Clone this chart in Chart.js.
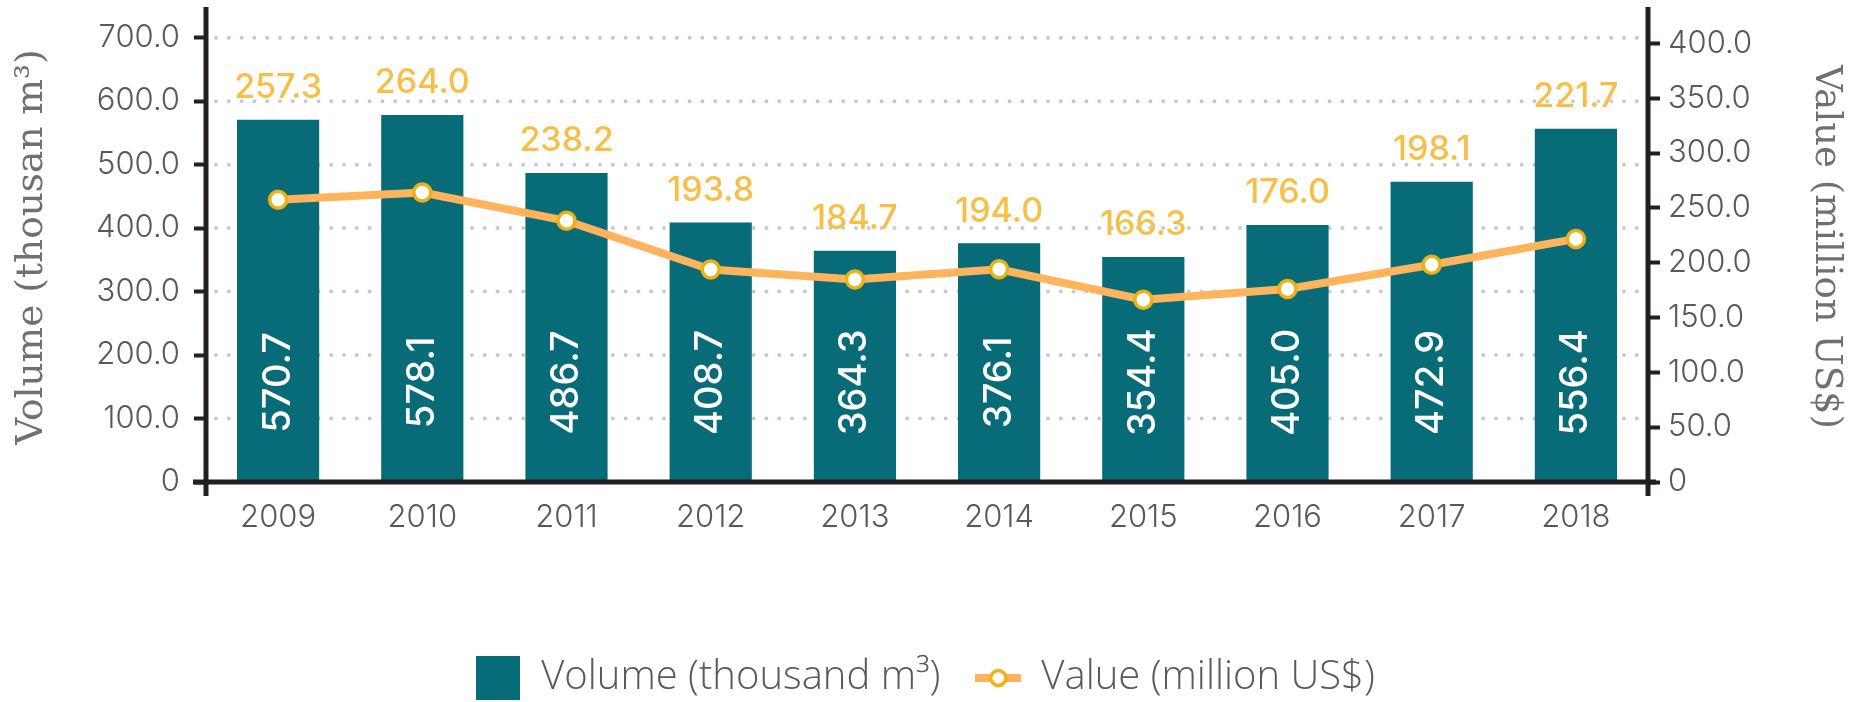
<!DOCTYPE html>
<html>
<head>
<meta charset="utf-8">
<script src="https://cdn.jsdelivr.net/npm/chart.js@4.4.1/dist/chart.umd.min.js"></script>
<style>
  html, body { margin: 0; padding: 0; background: #ffffff; }
  #wrap { width: 1850px; height: 702px; }
</style>
</head>
<body>
<div id="wrap"><canvas id="chart" width="1850" height="702"></canvas></div>
<script>
// ---- data ----
const years = ['2009', '2010', '2011', '2012', '2013', '2014', '2015', '2016', '2017', '2018'];
const volumeValues = [570.7, 578.1, 486.7, 408.7, 364.3, 376.1, 354.4, 405.0, 472.9, 556.4];
const valueValues = [257.3, 264.0, 238.2, 193.8, 184.7, 194.0, 166.3, 176.0, 198.1, 221.7];
const volumeTicks = [0, 100, 200, 300, 400, 500, 600, 700];
const valueTicks = [0, 50, 100, 150, 200, 250, 300, 350, 400];
const seriesNames = ['Volume (thousand m³)', 'Value (million US$)'];
const axisTitles = ['Volume (thousan m³)', 'Value (million US$)'];

// ---- styles ----
const TEAL = '#076b78';
const LINE = '#fdb45d';
const RING = '#efb015';
const LABEL = '#f7bf48';
const AXIS = '#231f20';
const GRID = '#cacaca';
const TEXT = '#595959';

function legendIcons() {
  const sq = document.createElement('canvas');
  sq.width = 44; sq.height = 44;
  let c = sq.getContext('2d');
  c.fillStyle = TEAL; c.fillRect(0, 0, 44, 44);
  const ln = document.createElement('canvas');
  ln.width = 46; ln.height = 22;
  c = ln.getContext('2d');
  c.strokeStyle = LINE; c.lineWidth = 8;
  c.beginPath(); c.moveTo(0, 11); c.lineTo(46, 11); c.stroke();
  c.beginPath(); c.arc(23, 11, 7.5, 0, Math.PI * 2);
  c.fillStyle = '#fff'; c.fill();
  c.lineWidth = 3.5; c.strokeStyle = RING; c.stroke();
  return [sq, ln];
}
const icons = legendIcons();

const dottedGrid = {
  id: 'dottedGrid',
  beforeDatasetsDraw(chart) {
    const { ctx, chartArea } = chart;
    const y = chart.scales.y;
    ctx.save();
    ctx.strokeStyle = GRID;
    ctx.lineWidth = 4;
    ctx.lineCap = 'round';
    ctx.setLineDash([0, 12.8]);
    volumeTicks.forEach(v => {
      if (v === 0) return;
      const py = y.getPixelForValue(v);
      ctx.beginPath();
      ctx.moveTo(chartArea.left + 10, py);
      ctx.lineTo(chartArea.right - 4, py);
      ctx.stroke();
    });
    ctx.restore();
  }
};

const axisLines = {
  id: 'axisLines',
  afterDatasetsDraw(chart) {
    const { ctx, chartArea } = chart;
    const { left, right, top, bottom } = chartArea;
    ctx.save();
    ctx.strokeStyle = AXIS;
    ctx.lineWidth = 5;
    ctx.beginPath();
    ctx.moveTo(left, top - 5); ctx.lineTo(left, bottom + 14);
    ctx.moveTo(right, top - 5); ctx.lineTo(right, bottom + 14);
    ctx.stroke();
    ctx.beginPath();
    ctx.moveTo(left - 13, bottom); ctx.lineTo(right + 8, bottom);
    ctx.stroke();
    ctx.restore();
  }
};

const valueLabels = {
  id: 'valueLabels',
  afterDatasetsDraw(chart) {
    const ctx = chart.ctx;
    const yL = chart.scales.y;
    const bars = chart.getDatasetMeta(0).data;
    const pts = chart.getDatasetMeta(1).data;
    const yText = yL.getPixelForValue(157);
    ctx.save();
    ctx.textAlign = 'center';
    ctx.textBaseline = 'middle';
    ctx.fillStyle = '#ffffff';
    ctx.font = '500 38px Inter, Lato, sans-serif';
    bars.forEach((bar, i) => {
      ctx.save();
      ctx.translate(bar.x, yText);
      ctx.rotate(-Math.PI / 2);
      ctx.fillText(volumeValues[i].toFixed(1), 0, 0);
      ctx.restore();
    });
    ctx.fillStyle = LABEL;
    ctx.font = '500 34px Inter, Lato, sans-serif';
    pts.forEach((pt, i) => {
      ctx.fillText(valueValues[i].toFixed(1), pt.x, bars[i].y - 32);
    });
    ctx.restore();
  }
};

function fixYFit(s, w) {
  s.width = w;
  s.paddingTop = 0;
  s.paddingBottom = 0;
}

new Chart(document.getElementById('chart'), {
  data: {
    labels: years,
    datasets: [
      {
        type: 'bar',
        label: seriesNames[0],
        data: volumeValues,
        yAxisID: 'y',
        backgroundColor: TEAL,
        borderWidth: 0,
        barPercentage: 0.57,
        categoryPercentage: 1.0,
        order: 2
      },
      {
        type: 'line',
        label: seriesNames[1],
        data: valueValues,
        yAxisID: 'y1',
        borderColor: LINE,
        backgroundColor: LINE,
        borderWidth: 8,
        tension: 0,
        pointRadius: 8.5,
        pointBorderWidth: 3.5,
        pointBackgroundColor: '#ffffff',
        pointBorderColor: RING,
        order: 1
      }
    ]
  },
  options: {
    responsive: false,
    animation: false,
    devicePixelRatio: 1,
    layout: { padding: { top: 2, bottom: -6, left: 0, right: 0 } },
    plugins: {
      tooltip: { enabled: false },
      legend: {
        position: 'bottom',
        labels: {
          usePointStyle: true,
          pointStyleWidth: 46,
          padding: 35,
          color: TEXT,
          font: { family: '"Open Sans", sans-serif', size: 40, weight: '300' },
          sort: (a, b) => a.datasetIndex - b.datasetIndex,
          generateLabels(chart) {
            const items = Chart.defaults.plugins.legend.labels.generateLabels(chart);
            items.forEach(it => {
              it.pointStyle = icons[it.datasetIndex];
              it.fontColor = TEXT;
              it.rotation = 0;
            });
            return items;
          }
        }
      }
    },
    scales: {
      x: {
        type: 'category',
        offset: true,
        grid: { display: false, drawTicks: false },
        border: { display: false },
        ticks: {
          color: TEXT,
          padding: 17,
          font: { family: 'Inter, sans-serif', size: 31, weight: '300' }
        },
        afterFit(s) { s.height = 141; }
      },
      y: {
        type: 'linear',
        position: 'left',
        min: 0,
        max: 740.5,
        afterBuildTicks(s) { s.ticks = volumeTicks.map(v => ({ value: v })); },
        afterFit(s) { fixYFit(s, 206); },
        grid: { drawOnChartArea: false, drawTicks: true, tickLength: 12, tickWidth: 4, tickColor: AXIS },
        border: { display: false },
        ticks: {
          color: TEXT,
          padding: 14,
          font: { family: 'Inter, sans-serif', size: 31, weight: '300' },
          callback: v => (v === 0 ? '0' : v.toFixed(1))
        },
        title: {
          display: true,
          text: axisTitles[0],
          color: '#707070',
          padding: { top: 10, bottom: 0 },
          font: { family: '"DejaVu Serif", serif', size: 37.5, weight: 'normal' }
        }
      },
      y1: {
        type: 'linear',
        position: 'right',
        min: 0,
        max: 428.6,
        afterBuildTicks(s) { s.ticks = valueTicks.map(v => ({ value: v })); },
        afterFit(s) { fixYFit(s, 202); },
        grid: { drawOnChartArea: false, drawTicks: true, tickLength: 12, tickWidth: 4, tickColor: AXIS },
        border: { display: false },
        ticks: {
          color: TEXT,
          padding: 8,
          font: { family: 'Inter, sans-serif', size: 31, weight: '300' },
          callback: v => (v === 0 ? '0' : v.toFixed(1))
        },
        title: {
          display: true,
          text: axisTitles[1],
          color: '#707070',
          padding: { top: 2, bottom: 2 },
          font: { family: '"DejaVu Serif", serif', size: 37, weight: 'normal' }
        }
      }
    }
  },
  plugins: [dottedGrid, axisLines, valueLabels]
});
</script>
</body>
</html>
